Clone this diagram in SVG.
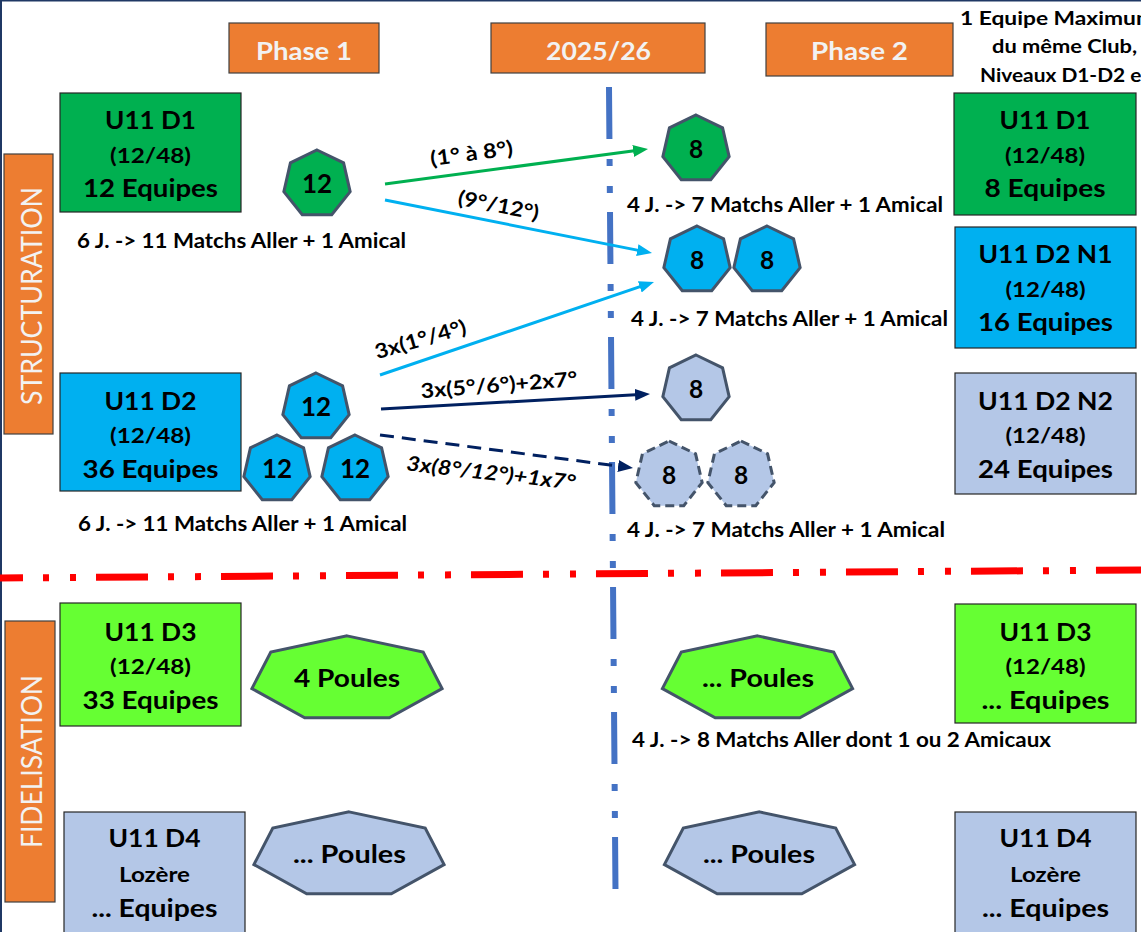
<svg xmlns="http://www.w3.org/2000/svg" width="1141" height="932" viewBox="0 0 1141 932">
<style>
.t{font-family:Lato,'Noto Sans','Liberation Sans',sans-serif;font-weight:700;fill:#000}
.c{text-anchor:middle}
.hdr{fill:#F2F2F2;font-size:25px}
.ttl{font-size:25px}
.num{font-size:26px}
.n8{font-size:24.5px}
.sub{font-size:20.5px}
.lbl{font-size:20px}
.side{fill:#F2F2F2;font-weight:400;font-size:29px}
.orange{fill:#ED7D31;stroke:#404040;stroke-width:1.2}
.box{stroke:#262626;stroke-width:1.2}
.g1{fill:#00B050}.b1{fill:#00B0F0}.lb{fill:#B4C7E7}.g3{fill:#66FF33}
.hept{stroke:#44546A;stroke-width:3}
.dh{stroke-dasharray:9 5}
.con{fill:none;stroke-width:3}
</style>
<defs>
<polygon id="h" points="0,-34 26.58,-21.2 33.15,7.57 14.75,30.63 -14.75,30.63 -33.15,7.57 -26.58,-21.2"/>
<polygon id="H" points="0,-43.1 76.2,-26.9 95.1,9.6 42.3,38.8 -42.3,38.8 -95.1,9.6 -76.2,-26.9"/>
<marker id="ag" markerUnits="userSpaceOnUse" markerWidth="15" markerHeight="12" viewBox="0 0 15 12" refX="5" refY="6" orient="auto"><path d="M0,0 L15,6 L0,12 z" fill="#00B050"/></marker>
<marker id="ab" markerUnits="userSpaceOnUse" markerWidth="15" markerHeight="12" viewBox="0 0 15 12" refX="5" refY="6" orient="auto"><path d="M0,0 L15,6 L0,12 z" fill="#00B0F0"/></marker>
<marker id="an" markerUnits="userSpaceOnUse" markerWidth="15" markerHeight="12" viewBox="0 0 15 12" refX="5" refY="6" orient="auto"><path d="M0,0 L15,6 L0,12 z" fill="#002060"/></marker>
</defs>
<rect width="1141" height="932" fill="#FFFFFF"/>
<rect x="1" y="0.5" width="1200" height="1000" fill="none" stroke="#1F3864" stroke-width="2"/>

<!-- separators -->
<g id="separators">
<line x1="609" y1="87" x2="615.5" y2="891" stroke="#4472C4" stroke-width="6" stroke-dasharray="52 20 7 20 7 19"/>
<line x1="0" y1="578" x2="1141" y2="570" stroke="#FF0000" stroke-width="7" stroke-dasharray="52 20 6 21 6 20" stroke-dashoffset="29"/>
</g>

<!-- headers -->
<g id="hdr-phase1"><rect x="229" y="23" width="150" height="50" class="orange"/><text x="304" y="60" class="t c hdr" textLength="96" lengthAdjust="spacingAndGlyphs">Phase 1</text></g>
<g id="hdr-season"><rect x="491" y="23" width="214" height="50" class="orange"/><text x="598.5" y="60" class="t c hdr" textLength="105" lengthAdjust="spacingAndGlyphs">2025/26</text></g>
<g id="hdr-phase2"><rect x="766" y="23" width="187" height="53" class="orange"/><text x="859.5" y="60" class="t c hdr" textLength="97" lengthAdjust="spacingAndGlyphs">Phase 2</text></g>
<g id="note-topright">
<text x="960" y="25" class="t" font-size="19.5" textLength="195" lengthAdjust="spacingAndGlyphs">1 Equipe Maximum</text>
<text x="992" y="53" class="t" font-size="19.5" textLength="145" lengthAdjust="spacingAndGlyphs">du même Club,</text>
<text x="980" y="82" class="t" font-size="19.5" textLength="169" lengthAdjust="spacingAndGlyphs">Niveaux D1-D2 et</text>
</g>

<!-- side labels -->
<g id="side-structuration"><rect x="4" y="154" width="49" height="280" class="orange"/><text transform="translate(42,296) rotate(-90)" class="t c side" textLength="218" lengthAdjust="spacingAndGlyphs">STRUCTURATION</text></g>
<g id="side-fidelisation"><rect x="5" y="621" width="50" height="281" class="orange"/><text transform="translate(42,761.5) rotate(-90)" class="t c side" textLength="173" lengthAdjust="spacingAndGlyphs">FIDELISATION</text></g>

<!-- left boxes -->
<g id="box-d1-left"><rect x="60" y="93" width="181" height="119" class="box g1"/>
<text x="150.5" y="129" class="t c ttl" textLength="91" lengthAdjust="spacingAndGlyphs">U11 D1</text>
<text x="150.5" y="163" class="t c sub" textLength="81" lengthAdjust="spacingAndGlyphs">(12/48)</text>
<text x="150.5" y="197" class="t c ttl" textLength="135" lengthAdjust="spacingAndGlyphs">12 Equipes</text></g>
<g id="box-d2-left"><rect x="60" y="373" width="181" height="118" class="box b1"/>
<text x="150.5" y="410" class="t c ttl" textLength="92" lengthAdjust="spacingAndGlyphs">U11 D2</text>
<text x="150.5" y="443" class="t c sub" textLength="81" lengthAdjust="spacingAndGlyphs">(12/48)</text>
<text x="150.5" y="478" class="t c ttl" textLength="136" lengthAdjust="spacingAndGlyphs">36 Equipes</text></g>
<g id="box-d3-left"><rect x="60" y="603" width="181" height="123" class="box g3"/>
<text x="150.5" y="641" class="t c ttl" textLength="92" lengthAdjust="spacingAndGlyphs">U11 D3</text>
<text x="150.5" y="674" class="t c sub" textLength="81" lengthAdjust="spacingAndGlyphs">(12/48)</text>
<text x="150.5" y="709" class="t c ttl" textLength="136" lengthAdjust="spacingAndGlyphs">33 Equipes</text></g>
<g id="box-d4-left"><rect x="64" y="812" width="181" height="140" class="box lb"/>
<text x="154.5" y="847" class="t c ttl" textLength="92" lengthAdjust="spacingAndGlyphs">U11 D4</text>
<text x="154.5" y="882" class="t c sub" textLength="71" lengthAdjust="spacingAndGlyphs">Lozère</text>
<text x="154.5" y="917" class="t c ttl" textLength="126" lengthAdjust="spacingAndGlyphs">... Equipes</text></g>

<!-- right boxes -->
<g id="box-d1-right"><rect x="954" y="93" width="182" height="122" class="box g1"/>
<text x="1045" y="129" class="t c ttl" textLength="91" lengthAdjust="spacingAndGlyphs">U11 D1</text>
<text x="1045" y="163" class="t c sub" textLength="80" lengthAdjust="spacingAndGlyphs">(12/48)</text>
<text x="1045" y="197" class="t c ttl" textLength="121" lengthAdjust="spacingAndGlyphs">8 Equipes</text></g>
<g id="box-d2n1-right"><rect x="955" y="227" width="181" height="121" class="box b1"/>
<text x="1045.5" y="263" class="t c ttl" textLength="134" lengthAdjust="spacingAndGlyphs">U11 D2 N1</text>
<text x="1045.5" y="297" class="t c sub" textLength="80" lengthAdjust="spacingAndGlyphs">(12/48)</text>
<text x="1045.5" y="331" class="t c ttl" textLength="135" lengthAdjust="spacingAndGlyphs">16 Equipes</text></g>
<g id="box-d2n2-right"><rect x="955" y="373" width="181" height="121" class="box lb"/>
<text x="1045.5" y="410" class="t c ttl" textLength="135" lengthAdjust="spacingAndGlyphs">U11 D2 N2</text>
<text x="1045.5" y="443" class="t c sub" textLength="80" lengthAdjust="spacingAndGlyphs">(12/48)</text>
<text x="1045.5" y="478" class="t c ttl" textLength="135" lengthAdjust="spacingAndGlyphs">24 Equipes</text></g>
<g id="box-d3-right"><rect x="955" y="604" width="181" height="119" class="box g3"/>
<text x="1045.5" y="641" class="t c ttl" textLength="92" lengthAdjust="spacingAndGlyphs">U11 D3</text>
<text x="1045.5" y="674" class="t c sub" textLength="80" lengthAdjust="spacingAndGlyphs">(12/48)</text>
<text x="1045.5" y="709" class="t c ttl" textLength="128" lengthAdjust="spacingAndGlyphs">... Equipes</text></g>
<g id="box-d4-right"><rect x="955" y="812" width="181" height="140" class="box lb"/>
<text x="1045.5" y="847" class="t c ttl" textLength="92" lengthAdjust="spacingAndGlyphs">U11 D4</text>
<text x="1045.5" y="882" class="t c sub" textLength="71" lengthAdjust="spacingAndGlyphs">Lozère</text>
<text x="1045.5" y="917" class="t c ttl" textLength="127" lengthAdjust="spacingAndGlyphs">... Equipes</text></g>

<!-- small heptagons -->
<g id="hept-d1-12"><use href="#h" x="317" y="184" class="hept g1"/><text x="317" y="193" class="t c num">12</text></g>
<g id="hept-d2-12a"><use href="#h" x="316" y="407" class="hept b1"/><text x="316" y="416" class="t c num">12</text></g>
<g id="hept-d2-12b"><use href="#h" x="277" y="469" class="hept b1"/><text x="277" y="478" class="t c num">12</text></g>
<g id="hept-d2-12c"><use href="#h" x="355" y="469" class="hept b1"/><text x="355" y="478" class="t c num">12</text></g>
<g id="hept-p2-d1"><use href="#h" x="696" y="149" class="hept g1"/><text x="696" y="157.5" class="t c n8">8</text></g>
<g id="hept-p2-n1a"><use href="#h" x="697" y="260" class="hept b1"/><text x="697" y="268.5" class="t c n8">8</text></g>
<g id="hept-p2-n1b"><use href="#h" x="767" y="260" class="hept b1"/><text x="767" y="268.5" class="t c n8">8</text></g>
<g id="hept-p2-n2"><use href="#h" x="696" y="389" class="hept lb"/><text x="696" y="397.5" class="t c n8">8</text></g>
<g id="hept-p2-n2b"><use href="#h" x="669" y="475" class="hept lb dh"/><text x="669" y="483.5" class="t c n8">8</text></g>
<g id="hept-p2-n2c"><use href="#h" x="741" y="475" class="hept lb dh"/><text x="741" y="483.5" class="t c n8">8</text></g>

<!-- big heptagons -->
<g id="poules-d3-left"><use href="#H" x="347" y="679" class="hept g3"/><text x="347" y="687" class="t c ttl" textLength="106" lengthAdjust="spacingAndGlyphs">4 Poules</text></g>
<g id="poules-d4-left"><use href="#H" x="349" y="855" class="hept lb"/><text x="349.5" y="863" class="t c ttl" textLength="113" lengthAdjust="spacingAndGlyphs">... Poules</text></g>
<g id="poules-d3-right"><use href="#H" x="757.5" y="679" class="hept g3"/><text x="758" y="687" class="t c ttl" textLength="112" lengthAdjust="spacingAndGlyphs">... Poules</text></g>
<g id="poules-d4-right"><use href="#H" x="759.5" y="855" class="hept lb"/><text x="759" y="863" class="t c ttl" textLength="112" lengthAdjust="spacingAndGlyphs">... Poules</text></g>

<!-- match notes -->
<g id="notes">
<text x="77" y="248" class="t lbl" textLength="329" lengthAdjust="spacingAndGlyphs">6 J. -&gt; 11 Matchs Aller + 1 Amical</text>
<text x="627" y="212" class="t lbl" textLength="316" lengthAdjust="spacingAndGlyphs">4 J. -&gt; 7 Matchs Aller + 1 Amical</text>
<text x="631" y="326" class="t lbl" textLength="317" lengthAdjust="spacingAndGlyphs">4 J. -&gt; 7 Matchs Aller + 1 Amical</text>
<text x="78" y="531" class="t lbl" textLength="329" lengthAdjust="spacingAndGlyphs">6 J. -&gt; 11 Matchs Aller + 1 Amical</text>
<text x="627" y="537" class="t lbl" textLength="318" lengthAdjust="spacingAndGlyphs">4 J. -&gt; 7 Matchs Aller + 1 Amical</text>
<text x="632" y="747" class="t lbl" textLength="419" lengthAdjust="spacingAndGlyphs">4 J. -&gt; 8 Matchs Aller dont 1 ou 2 Amicaux</text>
</g>

<!-- connectors -->
<g id="connectors">
<line x1="385" y1="184" x2="638.1" y2="150.3" class="con" stroke="#00B050" marker-end="url(#ag)"/>
<line x1="385" y1="200" x2="642.2" y2="251.1" class="con" stroke="#00B0F0" marker-end="url(#ab)"/>
<line x1="380" y1="375" x2="644.5" y2="285.2" class="con" stroke="#00B0F0" marker-end="url(#ab)"/>
<line x1="381" y1="409" x2="640" y2="394.6" class="con" stroke="#002060" marker-end="url(#an)"/>
<line x1="380" y1="435" x2="623.1" y2="466.7" class="con" stroke="#002060" stroke-dasharray="14 8" marker-end="url(#an)"/>
<text transform="translate(471.5,153.5) rotate(-7.6)" y="7" class="t c sub" textLength="83" lengthAdjust="spacingAndGlyphs">(1° à 8°)</text>
<text transform="translate(498.5,205.5) rotate(11)" y="7" class="t c sub" textLength="82" lengthAdjust="spacingAndGlyphs">(9°/12°)</text>
<text transform="translate(420.5,339.5) rotate(-16)" y="7" class="t c sub" textLength="94" lengthAdjust="spacingAndGlyphs">3x(1°/4°)</text>
<text transform="translate(499,385) rotate(-4.5)" y="7" class="t c sub" textLength="157" lengthAdjust="spacingAndGlyphs">3x(5°/6°)+2x7°</text>
<text transform="translate(491,473) rotate(6.5)" y="7" class="t c sub" font-style="italic" textLength="170" lengthAdjust="spacingAndGlyphs">3x(8°/12°)+1x7°</text>
</g>
</svg>
